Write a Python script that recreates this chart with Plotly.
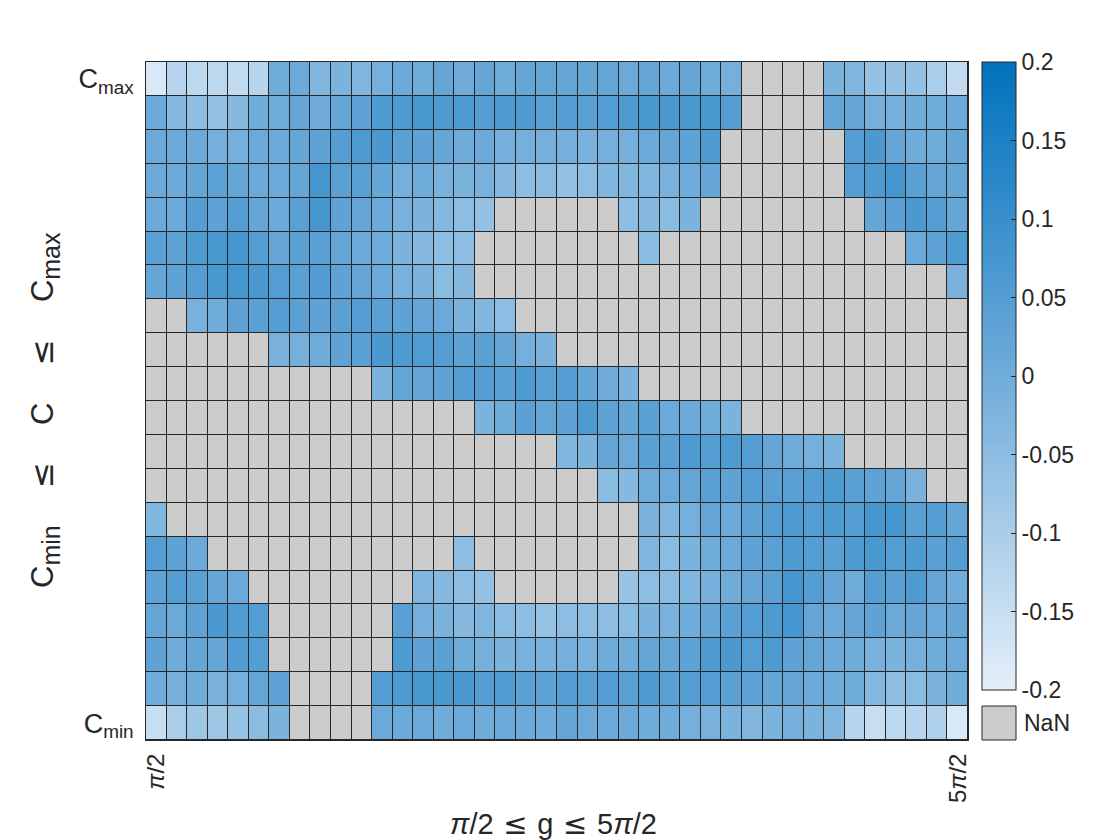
import plotly.graph_objects as go

N = None

# grid coordinates (columns: g from pi/2 to 5pi/2, rows: C from C_min to C_max)
g_index = list(range(1, 41))
c_index = list(range(1, 21))
x_tick_vals = [1, 40]
x_tick_text = ["<i>π</i>/2", "5<i>π</i>/2"]
y_tick_vals = [1, 20]
y_tick_text = ["C<sub>min</sub>", "C<sub>max</sub>"]
cbar_vals = [0.2, 0.15, 0.1, 0.05, 0, -0.05, -0.1, -0.15, -0.2]
cbar_text = ["0.2", "0.15", "0.1", "0.05", "0", "-0.05", "-0.1", "-0.15", "-0.2"]

# rows listed from top (C_max) to bottom (C_min)
row_20 = [-0.18, -0.12, -0.13, -0.13, -0.14, -0.12, 0.0, 0.01, -0.03, -0.02, -0.03, -0.01, 0.01, 0.0, 0.02, 0.0, 0.02, 0.0, 0.02, 0.02,
          0.02, 0.02, 0.02, 0.01, 0.02, 0.01, 0.02, 0.0, -0.01, N, N, N, N, -0.02, -0.03, -0.06, -0.06, -0.06, -0.1, -0.14]
row_19 = [0.01, -0.04, -0.05, -0.06, -0.04, 0.0, 0.0, 0.02, 0.0, 0.02, 0.03, 0.06, 0.06, 0.07, 0.06, 0.06, 0.05, 0.06, 0.06, 0.04,
          0.05, 0.04, 0.05, 0.06, 0.07, 0.065, 0.07, 0.07, 0.05, N, N, N, N, 0.02, 0.02, -0.01, -0.01, 0.0, 0.0, 0.01]
row_18 = [0.01, 0.01, 0.01, -0.01, -0.01, 0.01, 0.01, 0.02, 0.03, 0.05, 0.06, 0.065, 0.04, 0.03, 0.02, 0.0, 0.01, -0.01, -0.01, -0.01,
          -0.01, -0.015, -0.01, -0.01, 0.01, 0.02, 0.03, 0.06, N, N, N, N, N, N, 0.05, 0.065, 0.02, 0.0, 0.0, 0.02]
row_17 = [0.01, 0.01, 0.02, 0.035, 0.02, 0.01, 0.01, 0.02, 0.075, 0.04, 0.04, 0.02, -0.01, 0.0, -0.015, -0.02, -0.015, -0.04, -0.05, -0.045,
          -0.06, -0.05, -0.03, -0.03, -0.03, -0.015, 0.0, 0.02, N, N, N, N, N, N, 0.05, 0.06, 0.075, 0.04, 0.02, 0.02]
row_16 = [0.01, 0.01, 0.05, 0.03, 0.05, 0.02, 0.01, 0.04, 0.075, 0.03, 0.02, 0.01, -0.015, -0.02, -0.035, -0.05, -0.06, N, N, N,
          N, N, N, -0.05, -0.04, -0.045, -0.02, N, N, N, N, N, N, N, N, 0.02, 0.04, 0.065, 0.05, 0.02]
row_15 = [0.04, 0.03, 0.06, 0.07, 0.075, 0.05, 0.02, 0.04, 0.04, 0.02, 0.01, 0.0, -0.02, -0.04, -0.05, -0.05, N, N, N, N,
          N, N, N, N, -0.045, N, N, N, N, N, N, N, N, N, N, N, N, 0.01, 0.03, 0.06]
row_14 = [0.02, 0.03, 0.05, 0.07, 0.075, 0.065, 0.05, 0.04, 0.055, 0.03, 0.02, 0.01, -0.015, -0.02, -0.045, -0.04, N, N, N, N,
          N, N, N, N, N, N, N, N, N, N, N, N, N, N, N, N, N, N, N, -0.015]
row_13 = [N, N, -0.015, 0.0, 0.03, 0.04, 0.05, 0.04, 0.03, 0.04, 0.05, 0.04, 0.03, 0.02, 0.01, -0.02, -0.03, -0.05, N, N,
          N, N, N, N, N, N, N, N, N, N, N, N, N, N, N, N, N, N, N, N]
row_12 = [N, N, N, N, N, N, -0.015, -0.01, 0.0, 0.03, 0.04, 0.065, 0.06, 0.055, 0.05, 0.03, 0.04, 0.02, -0.01, -0.02,
          N, N, N, N, N, N, N, N, N, N, N, N, N, N, N, N, N, N, N, N]
row_11 = [N, N, N, N, N, N, N, N, N, N, N, -0.02, 0.02, 0.02, 0.03, 0.05, 0.05, 0.04, 0.06, 0.04,
          0.05, 0.02, 0.0, -0.02, N, N, N, N, N, N, N, N, N, N, N, N, N, N, N, N]
row_10 = [N, N, N, N, N, N, N, N, N, N, N, N, N, N, N, N, -0.02, 0.0, 0.04, 0.02,
          0.03, 0.06, 0.03, 0.02, 0.04, 0.01, 0.01, 0.0, -0.02, N, N, N, N, N, N, N, N, N, N, N]
row_09 = [N, N, N, N, N, N, N, N, N, N, N, N, N, N, N, N, N, N, N, N,
          -0.03, -0.02, 0.02, 0.01, 0.04, 0.04, 0.06, 0.05, 0.06, 0.05, 0.02, 0.0, -0.01, -0.02, N, N, N, N, N, N]
row_08 = [N, N, N, N, N, N, N, N, N, N, N, N, N, N, N, N, N, N, N, N,
          N, N, -0.045, -0.04, 0.0, 0.01, 0.02, 0.04, 0.03, 0.05, 0.04, 0.04, 0.05, 0.06, 0.04, 0.03, 0.02, -0.015, N, N]
row_07 = [-0.03, N, N, N, N, N, N, N, N, N, N, N, N, N, N, N, N, N, N, N,
          N, N, N, N, -0.02, -0.03, -0.01, 0.02, 0.01, 0.03, 0.05, 0.06, 0.05, 0.06, 0.05, 0.075, 0.075, 0.04, 0.05, 0.02]
row_06 = [0.05, 0.03, 0.01, N, N, N, N, N, N, N, N, N, N, N, N, -0.05, N, N, N, N,
          N, N, N, N, -0.03, -0.045, -0.02, 0.0, 0.01, 0.03, 0.04, 0.06, 0.05, 0.04, 0.06, 0.07, 0.05, 0.06, 0.04, 0.05]
row_05 = [0.03, 0.05, 0.04, 0.02, 0.01, N, N, N, N, N, N, N, N, -0.03, -0.04, -0.05, -0.06, N, N, N,
          N, N, N, -0.07, -0.05, -0.045, -0.03, -0.01, 0.0, 0.02, 0.04, 0.075, 0.05, 0.02, 0.0, 0.05, 0.04, 0.06, 0.02, 0.0]
row_04 = [0.02, 0.01, 0.03, 0.065, 0.055, 0.05, N, N, N, N, N, N, 0.04, -0.01, -0.02, -0.04, -0.03, -0.045, -0.05, -0.065,
          -0.05, -0.05, -0.05, -0.045, -0.02, -0.015, 0.0, 0.02, 0.04, 0.05, 0.06, 0.075, 0.02, 0.01, 0.02, 0.03, 0.01, 0.02, 0.01, 0.02]
row_03 = [0.03, 0.0, 0.02, 0.02, 0.055, 0.05, N, N, N, N, N, N, 0.06, 0.03, 0.04, 0.0, -0.01, -0.02, -0.015, -0.015,
          -0.01, -0.015, 0.0, 0.0, 0.02, 0.02, 0.03, 0.06, 0.065, 0.05, 0.06, 0.03, 0.02, 0.01, 0.0, -0.015, -0.02, -0.01, 0.0, 0.01]
row_02 = [0.0, -0.01, 0.0, -0.015, -0.01, 0.02, 0.03, N, N, N, N, 0.05, 0.06, 0.07, 0.07, 0.065, 0.05, 0.055, 0.04, 0.03,
          0.05, 0.04, 0.05, 0.04, 0.06, 0.04, 0.05, 0.05, 0.04, 0.03, 0.02, 0.02, 0.01, 0.0, 0.0, -0.035, -0.05, -0.045, -0.02, 0.0]
row_01 = [-0.15, -0.1, -0.08, -0.08, -0.065, -0.045, -0.02, N, N, N, N, 0.01, 0.01, 0.01, 0.0, 0.01, 0.0, 0.01, 0.01, 0.0,
          0.02, 0.01, 0.01, 0.01, 0.0, 0.0, -0.01, -0.015, -0.02, -0.03, -0.02, -0.01, -0.02, -0.03, -0.12, -0.15, -0.13, -0.12, -0.11, -0.18]

# z ordered from bottom row (C_min) to top row (C_max)
z_rows = [row_01, row_02, row_03, row_04, row_05, row_06, row_07, row_08, row_09, row_10,
          row_11, row_12, row_13, row_14, row_15, row_16, row_17, row_18, row_19, row_20]

nan_layer = [[0 for _ in g_index] for _ in c_index]

FONT = "Liberation Sans, Arial, Helvetica, sans-serif"
LINE = "#262626"
TXT = "#262626"

# page body has an 8px default margin, so the figure is shifted by 8px
PL, PT, PW, PH = 138, 54, 822, 678
FIG_W, FIG_H = 1112, 832

fig = go.Figure()
fig.add_trace(go.Heatmap(
    x=g_index, y=c_index, z=nan_layer,
    colorscale=[[0, "#cccccc"], [1, "#cccccc"]],
    showscale=False, xgap=1, ygap=1, hoverinfo="skip",
))
fig.add_trace(go.Heatmap(
    x=g_index, y=c_index, z=z_rows,
    zmin=-0.2, zmax=0.2,
    colorscale=[[0, "rgb(228,239,249)"], [0.5, "rgb(112,172,218)"], [1, "rgb(0,114,189)"]],
    xgap=1, ygap=1,
    colorbar=dict(
        x=(982 - 146) / PW, xanchor="left", xpad=0,
        y=1, yanchor="top", ypad=0,
        len=628, lenmode="pixels", thickness=34, thicknessmode="pixels",
        outlinewidth=1, outlinecolor=LINE,
        ticks="inside", ticklen=5, tickcolor=LINE,
        tickvals=cbar_vals, ticktext=cbar_text,
        tickfont=dict(family=FONT, size=23, color=TXT),
    ),
))

fig.update_layout(
    width=FIG_W, height=FIG_H,
    margin=dict(l=PL, r=FIG_W - PL - PW, t=PT, b=FIG_H - PT - PH),
    paper_bgcolor="white", plot_bgcolor=LINE,
    font=dict(family=FONT, color=TXT),
    showlegend=False,
)
fig.update_xaxes(
    range=[0.5, 40.5], tickvals=x_tick_vals, ticktext=x_tick_text, tickangle=-90,
    ticks="", showgrid=False, zeroline=False, showline=True, mirror=True,
    linecolor=LINE, linewidth=1, tickfont=dict(size=24), ticklabelstandoff=3,
)
fig.update_yaxes(
    range=[0.5, 20.5], tickvals=y_tick_vals, ticktext=y_tick_text,
    ticks="", showgrid=False, zeroline=False, showline=True, mirror=True,
    linecolor=LINE, linewidth=1, tickfont=dict(size=27), ticklabelstandoff=6,
)

# NaN swatch below the colorbar
fig.add_shape(type="rect", xref="paper", yref="paper",
              x0=(982 - 146) / PW, x1=(1016 - 146) / PW, y0=0, y1=34 / PH,
              fillcolor="#cccccc", line=dict(color=LINE, width=1))
fig.add_annotation(text="NaN", xref="paper", yref="paper", x=(1022 - 146) / PW, y=17 / PH,
                   xanchor="left", yanchor="middle", showarrow=False, font=dict(size=23))

# axis titles
LEQ = "<span style='font-family:DejaVu Sans'>≤</span>"
XS = "\u2004"
fig.add_annotation(text="<i>π</i>/2" + XS + LEQ + XS + "g" + XS + LEQ + XS + "5<i>π</i>/2",
                   xref="paper", yref="paper",
                   x=(553 - 146) / PW, y=(740 - 824) / PH, xanchor="center", yanchor="middle",
                   showarrow=False, font=dict(size=29))
SP = "\u2003\u2009"
fig.add_annotation(
    text="C<sub><span style='font-size:25px'>min</span></sub>" + SP + LEQ + SP + "C" + SP + LEQ + SP
         + "C<sub><span style='font-size:25px'>max</span></sub>",
    xref="paper", yref="paper",
    x=(44 - 146) / PW, y=(740 - 410) / PH, xanchor="center", yanchor="middle",
    textangle=-90, showarrow=False, font=dict(size=31))

fig.write_html("out.html")
